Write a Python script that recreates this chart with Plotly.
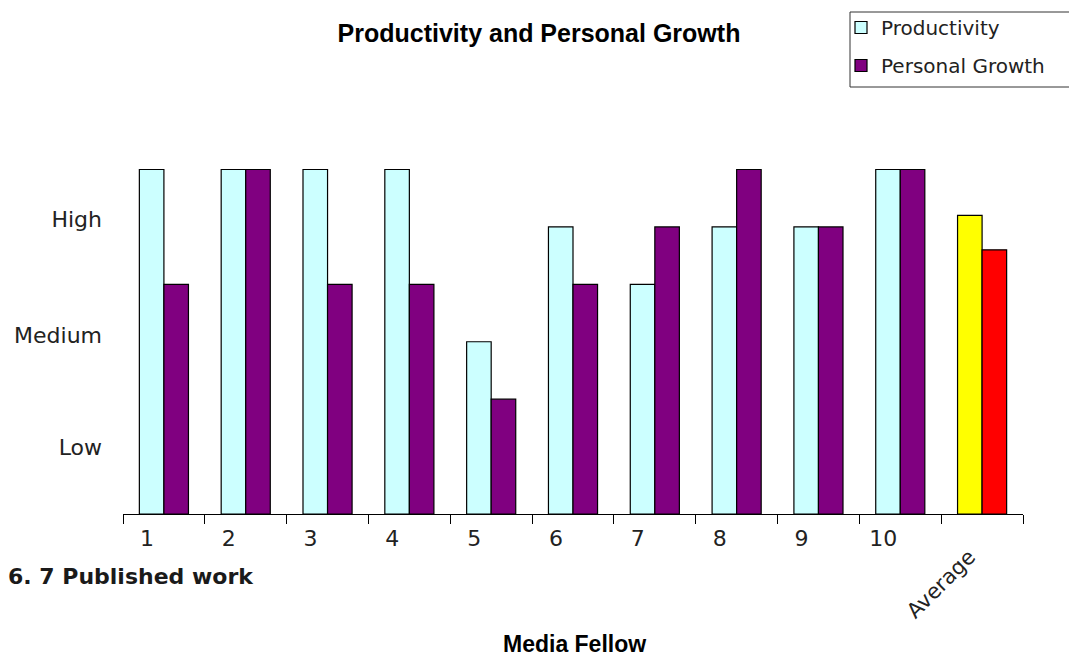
import plotly.graph_objects as go

categories = ["1", "2", "3", "4", "5", "6", "7", "8", "9", "10", "Average"]
productivity = [6, 6, 6, 6, 3, 5, 4, 5, 5, 6, 5.2]
personal_growth = [4, 6, 4, 4, 2, 4, 5, 6, 5, 6, 4.6]
level_labels = ["Low", "Medium", "High"]
level_positions = [1.17, 3.12, 5.14]

prod_colors = ["#CCFFFF"] * 10 + ["#FFFF00"]
growth_colors = ["#800080"] * 10 + ["#FF0000"]
tick_text = [c if c != "Average" else "" for c in categories]

# page body adds an 8px offset, so the figure is drawn 8px smaller
OFF = 8
W, H = 1077 - OFF, 657 - OFF
ML, MR, MT, MB = 115, 54, 150, 143
PW, PH = W - ML - MR, H - MT - MB


def px_x(px):
    """screen x -> paper x"""
    return (px - OFF - ML) / PW


def px_y(py):
    """screen y -> paper y"""
    return (H - MB - (py - OFF)) / PH


fig = go.Figure()
fig.add_trace(go.Bar(
    x=categories, y=productivity, name="Productivity", legendgroup="a",
    marker=dict(color=prod_colors, line=dict(color="black", width=1.2)),
))
fig.add_trace(go.Bar(
    x=categories, y=personal_growth, name="Personal Growth", legendgroup="b",
    marker=dict(color=growth_colors, line=dict(color="black", width=1.2)),
))

fig.update_layout(
    width=W, height=H,
    paper_bgcolor="white", plot_bgcolor="white",
    margin=dict(l=ML, r=MR, t=MT, b=MB, autoexpand=False),
    barmode="group", bargap=0.4, bargroupgap=0,
    font=dict(family="Liberation Sans, Arial, sans-serif", color="black"),
    title=dict(text="<b>Productivity and Personal Growth</b>",
               x=(539 - OFF) / W, xref="container",
               y=1 - (33 - OFF) / H, yref="container", xanchor="center", yanchor="middle",
               font=dict(size=25, family="Liberation Sans, Arial, sans-serif")),
    showlegend=True,
    legend=dict(x=px_x(841), y=px_y(8), xanchor="left", yanchor="top",
                bgcolor="rgba(0,0,0,0)", borderwidth=0,
                font=dict(size=20, family="DejaVu Sans, sans-serif", color="#222222"),
                tracegroupgap=9, itemwidth=30),
    xaxis=dict(
        type="category", tickmode="array", tickvals=categories, ticktext=tick_text,
        showline=True, linecolor="black", linewidth=1.2,
        ticks="outside", ticklen=9, tickwidth=1.2, tickcolor="black",
        tickson="boundaries", ticklabelshift=-17, ticklabelstandoff=4,
        tickfont=dict(size=22, family="DejaVu Sans, sans-serif", color="#222222"),
        showgrid=False, zeroline=False,
    ),
    yaxis=dict(
        range=[0, 6.2], tickmode="array", tickvals=level_positions, ticktext=level_labels,
        showline=False, ticks="", showgrid=False, zeroline=False,
        ticklabelstandoff=20,
        tickfont=dict(size=22, family="DejaVu Sans, sans-serif", color="#222222"),
    ),
    shapes=[dict(type="rect", xref="paper", yref="paper",
                 x0=px_x(850), x1=px_x(1072), y0=px_y(87), y1=px_y(12),
                 line=dict(color="#333333", width=1), fillcolor="rgba(0,0,0,0)")],
)

fig.add_annotation(
    text="Average", x="Average", xref="x", xshift=-41,
    y=px_y(584), yref="paper", yanchor="middle", xanchor="center",
    textangle=-45, showarrow=False,
    font=dict(size=21, family="DejaVu Sans, sans-serif", color="#222222"),
)
fig.add_annotation(
    text="<b>Media Fellow</b>", x=px_x(574), xref="paper", y=px_y(644), yref="paper",
    xanchor="center", yanchor="middle",
    showarrow=False, font=dict(size=23),
)
fig.add_annotation(
    text="<b>6. 7 Published work</b>", x=px_x(6), xref="paper", y=px_y(576), yref="paper",
    xanchor="left", yanchor="middle", showarrow=False,
    font=dict(size=22, family="DejaVu Sans, sans-serif", color="#1a1a1a"),
)

fig.write_html("out.html")
